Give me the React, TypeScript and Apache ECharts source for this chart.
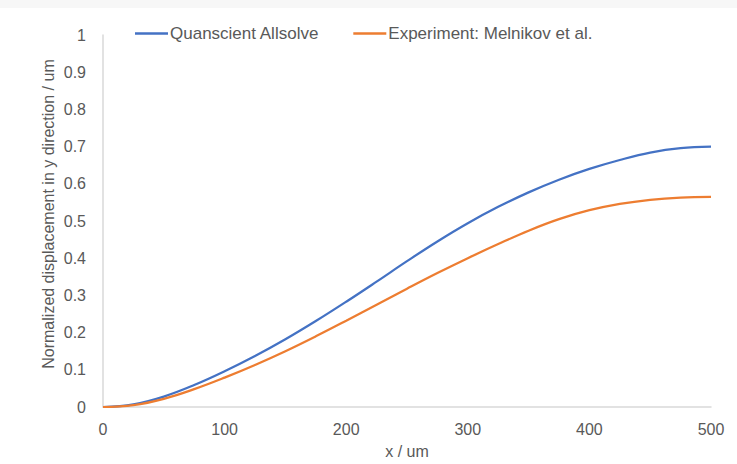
import React, { useEffect, useRef } from "react";
import * as echarts from "echarts";

const xValues = [0, 25, 50, 75, 100, 125, 150, 175, 200, 225, 250, 275, 300, 325, 350, 375, 400, 425, 450, 475, 500];
const allsolve = [0, 0.007, 0.028, 0.059, 0.096, 0.137, 0.182, 0.231, 0.283, 0.337, 0.392, 0.445, 0.494, 0.538, 0.577, 0.611, 0.64, 0.664, 0.684, 0.696, 0.7];
const melnikov = [0, 0.005, 0.022, 0.048, 0.079, 0.113, 0.15, 0.19, 0.232, 0.275, 0.318, 0.36, 0.4, 0.438, 0.474, 0.505, 0.529, 0.546, 0.557, 0.563, 0.565];

const seriesNames = ["Quanscient Allsolve", "Experiment: Melnikov et al."];
const seriesColors = ["#4472C4", "#ED7D31"];
const xTitle = "x / um";
const yTitle = "Normalized displacement in y direction / um";

const FONT = '"Liberation Sans", Arial, Helvetica, sans-serif';
const TEXT = "#595959";

export default function App() {
  const ref = useRef<HTMLDivElement>(null);
  useEffect(() => {
    document.body.style.margin = "0";
    if (!ref.current) return;
    const chart = echarts.init(ref.current, undefined, { renderer: "svg" });
    const toPairs = (ys: number[]) => xValues.map((x, i) => [x, ys[i]]);
    chart.setOption({
      animation: false,
      backgroundColor: "#ffffff",
      textStyle: { fontFamily: FONT },
      grid: { left: 103, width: 608, top: 35, height: 375, containLabel: false },
      legend: {
        left: 130,
        top: 20,
        itemWidth: 33,
        itemHeight: 2.5,
        itemGap: 34,
        icon: "rect",
        textStyle: { color: TEXT, fontSize: 17, fontFamily: FONT, padding: [0, 0, 0, -3] },
        data: seriesNames.map((n) => ({ name: n, icon: "rect" })),
      },
      xAxis: {
        type: "value",
        min: 0,
        max: 500,
        interval: 100,
        name: xTitle,
        nameLocation: "middle",
        nameGap: 36,
        nameTextStyle: { color: TEXT, fontSize: 16, fontFamily: FONT },
        axisLine: { show: true, lineStyle: { color: "#d9d9d9", width: 1.5 } },
        axisTick: { show: false },
        splitLine: { show: false },
        axisLabel: { color: TEXT, fontSize: 16, fontFamily: FONT, margin: 14 },
      },
      yAxis: {
        type: "value",
        min: 0,
        max: 1,
        interval: 0.1,
        axisLine: { show: true, lineStyle: { color: "#d9d9d9", width: 1.5 } },
        axisTick: { show: false },
        splitLine: { show: false },
        axisLabel: {
          color: TEXT,
          fontSize: 16,
          fontFamily: FONT,
          margin: 17,
          formatter: (v: number) => String(Math.round(v * 10) / 10),
        },
      },
      graphic: [
        { type: "rect", left: 0, top: 0, shape: { width: 737, height: 8 }, style: { fill: "#f7f7f7" } },
        {
          type: "text",
          x: 48,
          y: 214,
          rotation: Math.PI / 2,
          style: {
            text: yTitle,
            fill: TEXT,
            fontSize: 16,
            fontFamily: FONT,
            align: "center",
            verticalAlign: "middle",
          },
        },
      ],
      series: [
        {
          name: seriesNames[0],
          type: "line",
          data: toPairs(allsolve),
          smooth: 0.4,
          symbol: "none",
          lineStyle: { color: seriesColors[0], width: 2.25 },
          itemStyle: { color: seriesColors[0] },
        },
        {
          name: seriesNames[1],
          type: "line",
          data: toPairs(melnikov),
          smooth: 0.4,
          symbol: "none",
          lineStyle: { color: seriesColors[1], width: 2.25 },
          itemStyle: { color: seriesColors[1] },
        },
      ],
    });
    return () => chart.dispose();
  }, []);
  return <div ref={ref} style={{ width: 737, height: 464 }} />;
}
